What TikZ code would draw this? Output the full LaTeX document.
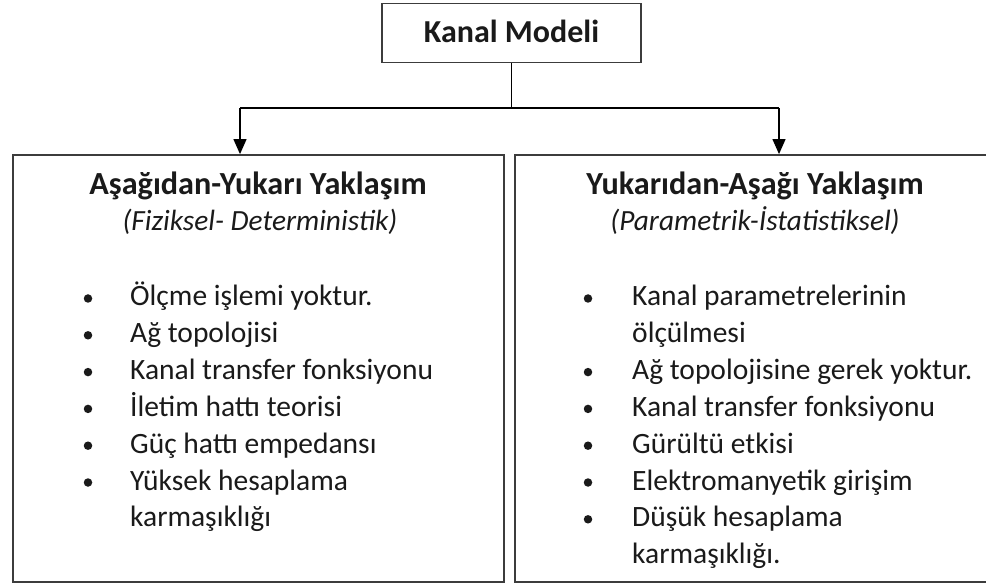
\documentclass[tikz,border=0pt]{standalone}
\usepackage{fontspec}
\setmainfont{Carlito}
\usetikzlibrary{arrows.meta}
\definecolor{linegray}{HTML}{3C3C3C}
\definecolor{txt}{HTML}{1A1A1A}
\tikzset{
  frame/.style={draw=linegray, line width=1.8pt, inner sep=0pt, fill=white},
  conn/.style={draw=black, line width=1.2pt},
  arr/.style={conn, -{Triangle[width=13pt,length=15pt]}},
  ttl/.style={font=\bfseries\fontsize{32.2}{36}\selectfont, text=txt, inner sep=0pt, anchor=base},
  sub/.style={font=\itshape\fontsize{29.3}{34}\selectfont, text=txt, inner sep=0pt, anchor=base},
  item/.style={font=\fontsize{29.5}{34}\selectfont, text=txt, inner sep=0pt, anchor=base west},
  bul/.style={circle, fill=txt, inner sep=0pt, minimum size=8.5pt}
}
\begin{document}
\begin{tikzpicture}[x=1pt,y=-1pt]
\clip (0,0) rectangle (986,585);
\useasboundingbox (0,0) rectangle (986,585);
\fill[white] (0,0) rectangle (986,585);
% boxes
\node[frame, minimum width=259pt, minimum height=59pt] (km) at (511.5,33) {};
\node[ttl, font=\bfseries\fontsize{32}{36}\selectfont] (kmt) at (511.5,43) {Kanal Modeli};
\node[frame, minimum width=491pt, minimum height=427pt] (lb) at (258.5,368.5) {};
\node[frame, minimum width=478pt, minimum height=427pt] (rb) at (754,368.5) {};
% connectors
\coordinate (j) at (511.5,108);
\coordinate (jl) at (240,108);
\coordinate (jr) at (779,108);
\draw[conn] (km.south) -- (j);
\draw[conn] (jl) -- (jr);
\draw[arr] (jl) -- (jl |- lb.north);
\draw[arr] (jr) -- (jr |- rb.north);
% left content
\node[ttl] (lt) at (258,195) {Aşağıdan-Yukarı Yaklaşım};
\node[sub] (ls) at (260,230.5) {(Fiziksel- Deterministik)};
\foreach \t [count=\i] in {Ölçme işlemi yoktur.,Ağ topolojisi,Kanal transfer fonksiyonu,İletim hattı teorisi,Güç hattı empedansı,Yüksek hesaplama}{
  \node[bul] (lbul\i) at (88,298.5+36.8*\i-36.8) {};
  \node[item] (li\i) at (130,306+36.8*\i-36.8) {\t};
}
\node[item] (li7) at (130,526.8) {karmaşıklığı};
% right content
\node[ttl] (rt) at (755,195) {Yukarıdan-Aşağı Yaklaşım};
\node[sub] (rs) at (755,230.5) {(Parametrik-İstatistiksel)};
\foreach \t/\k in {Kanal parametrelerinin/0,Ağ topolojisine gerek yoktur./2,Kanal transfer fonksiyonu/3,Gürültü etkisi/4,Elektromanyetik girişim/5,Düşük hesaplama/6}{
  \node[bul] (rbul\k) at (588,298.5+36.8*\k) {};
  \node[item] (ri\k) at (632,306+36.8*\k) {\t};
}
\node[item] (ri1) at (632,342.8) {ölçülmesi};
\node[item] (ri7) at (632,563.6) {karmaşıklığı.};
\end{tikzpicture}
\end{document}
